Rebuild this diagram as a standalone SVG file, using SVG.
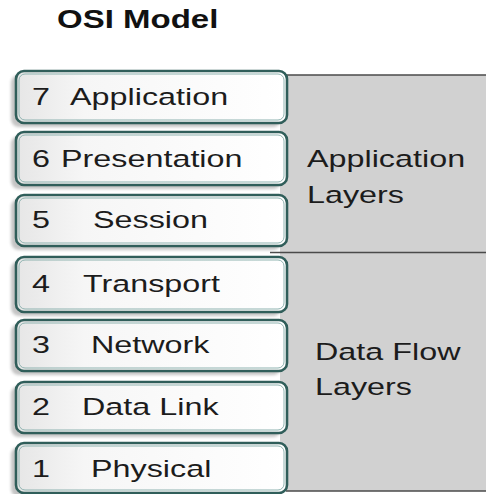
<svg xmlns="http://www.w3.org/2000/svg" width="486" height="494" viewBox="0 0 486 494">
  <style>
    .lbl { font-family: "Liberation Sans", Arial, sans-serif; font-size: 24.5px; fill: #1c1c1c; }
    .title { font-family: "Liberation Sans", Arial, sans-serif; font-size: 25px; font-weight: bold; fill: #111; }
    .box { fill: url(#boxFill); stroke: #305e5a; stroke-width: 2.6; }
    .inner { fill: none; stroke: #8fb3b0; stroke-width: 1; }
    .shadow { fill: #c4c4c4; filter: url(#soft); }
    .rule { stroke: #4a4a4a; stroke-width: 1.6; }
  </style>
  <defs>
    <linearGradient id="boxFill" x1="0" y1="0" x2="1" y2="0">
      <stop offset="0" stop-color="#e6e6e6"/>
      <stop offset="0.25" stop-color="#f6f6f6"/>
      <stop offset="1" stop-color="#ffffff"/>
    </linearGradient>
    <filter id="soft" x="-10%" y="-20%" width="120%" height="140%">
      <feGaussianBlur stdDeviation="1.5"/>
    </filter>
  </defs>

  <rect width="486" height="494" fill="#ffffff"/>

  <!-- title -->
  <text class="title" transform="translate(57,28) scale(1.32,1)">OSI Model</text>

  <!-- grey band behind the layer stack -->
  <g id="panel">
    <rect x="280" y="75" width="206" height="416" fill="#d1d1d1"/>
    <line class="rule" x1="286" y1="75" x2="486" y2="75"/>
    <line class="rule" x1="270" y1="252.5" x2="486" y2="252.5"/>
    <line class="rule" x1="286" y1="491" x2="486" y2="491"/>
  </g>

  <g id="app-layers">
    <text class="lbl" transform="translate(307,167) scale(1.32,1)">Application</text>
    <text class="lbl" transform="translate(307,203) scale(1.32,1)">Layers</text>
  </g>

  <g id="dataflow-layers">
    <text class="lbl" transform="translate(315,360) scale(1.32,1)">Data Flow</text>
    <text class="lbl" transform="translate(315,395) scale(1.32,1)">Layers</text>
  </g>

  <!-- layer boxes -->
  <g id="layer7" transform="translate(0,70)">
    <rect class="shadow" x="11" y="5" width="270" height="52" rx="8"/>
    <rect class="box" x="16" y="1" width="271" height="52" rx="8"/>
    <rect class="inner" x="19" y="4" width="265" height="46" rx="6"/>
    <text class="lbl" transform="translate(32,35) scale(1.32,1)"><tspan x="0">7</tspan><tspan x="28.8">Application</tspan></text>
  </g>

  <g id="layer6" transform="translate(0,131)">
    <rect class="shadow" x="11" y="5" width="270" height="53" rx="8"/>
    <rect class="box" x="16" y="1" width="271" height="53" rx="8"/>
    <rect class="inner" x="19" y="4" width="265" height="47" rx="6"/>
    <text class="lbl" transform="translate(32,36) scale(1.32,1)"><tspan x="0">6</tspan><tspan x="22">Presentation</tspan></text>
  </g>

  <g id="layer5" transform="translate(0,194)">
    <rect class="shadow" x="11" y="5" width="270" height="51" rx="8"/>
    <rect class="box" x="16" y="1" width="271" height="51" rx="8"/>
    <rect class="inner" x="19" y="4" width="265" height="45" rx="6"/>
    <text class="lbl" transform="translate(32,34) scale(1.32,1)"><tspan x="0">5</tspan><tspan x="46.2">Session</tspan></text>
  </g>

  <g id="layer4" transform="translate(0,256)">
    <rect class="shadow" x="11" y="5" width="270" height="55" rx="8"/>
    <rect class="box" x="16" y="1" width="271" height="55" rx="8"/>
    <rect class="inner" x="19" y="4" width="265" height="49" rx="6"/>
    <text class="lbl" transform="translate(32,35.7) scale(1.32,1)"><tspan x="0">4</tspan><tspan x="38.6">Transport</tspan></text>
  </g>

  <g id="layer3" transform="translate(0,319)">
    <rect class="shadow" x="11" y="5" width="270" height="51" rx="8"/>
    <rect class="box" x="16" y="1" width="271" height="51" rx="8"/>
    <rect class="inner" x="19" y="4" width="265" height="45" rx="6"/>
    <text class="lbl" transform="translate(32,34) scale(1.32,1)"><tspan x="0">3</tspan><tspan x="44.7">Network</tspan></text>
  </g>

  <g id="layer2" transform="translate(0,381)">
    <rect class="shadow" x="11" y="5" width="270" height="51" rx="8"/>
    <rect class="box" x="16" y="1" width="271" height="51" rx="8"/>
    <rect class="inner" x="19" y="4" width="265" height="45" rx="6"/>
    <text class="lbl" transform="translate(32,34) scale(1.32,1)"><tspan x="0">2</tspan><tspan x="37.9">Data Link</tspan></text>
  </g>

  <g id="layer1" transform="translate(0,442)">
    <rect class="shadow" x="11" y="5" width="270" height="50" rx="8"/>
    <rect class="box" x="16" y="1" width="271" height="50" rx="8"/>
    <rect class="inner" x="19" y="4" width="265" height="44" rx="6"/>
    <text class="lbl" transform="translate(32,34.7) scale(1.32,1)"><tspan x="0">1</tspan><tspan x="44.7">Physical</tspan></text>
  </g>
</svg>
